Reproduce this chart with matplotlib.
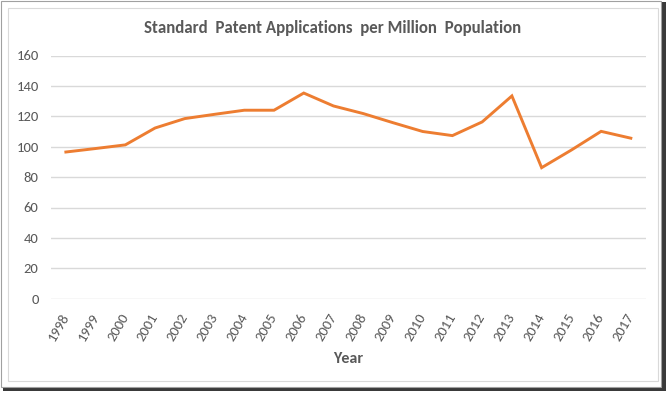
import matplotlib
matplotlib.use("Agg")
import matplotlib.pyplot as plt
from matplotlib.patches import Rectangle

years = [str(y) for y in range(1998, 2018)]
values = [96.5, 98.8, 101.2, 112.3, 118.5, 121.3, 124.0, 124.0, 135.3, 126.8,
          121.8, 115.8, 110.0, 107.3, 116.3, 133.4, 86.2, 97.8, 110.1, 105.6]
yticks = [0, 20, 40, 60, 80, 100, 120, 140, 160]

txt = '#595959'
plt.rcParams['font.family'] = ['Carlito', 'Open Sans', 'DejaVu Sans']

fig = plt.figure(figsize=(6.7, 3.94), dpi=100)
fig.patch.set_facecolor('white')

W, H = 670, 394
fig.patches.append(Rectangle((3 / W, 1 - 391 / H), 663 / W, 389 / H, transform=fig.transFigure,
                             facecolor='#3a3a3a', edgecolor='none', zorder=0))
fig.patches.append(Rectangle((1 / W, 1 - 387 / H), 660 / W, 386 / H, transform=fig.transFigure,
                             facecolor='white', edgecolor='#a0a0a0', lw=0.8, zorder=1))
fig.patches.append(Rectangle((8 / W, 1 - 381 / H), 650 / W, 373 / H, transform=fig.transFigure,
                             facecolor='white', edgecolor='#d9d9d9', lw=0.8, zorder=2))

ax = fig.add_axes([51 / W, 1 - 298.7 / H, (645.7 - 51) / W, (298.7 - 55.5) / H])
ax.set_zorder(3)
ax.patch.set_alpha(0)
x = list(range(len(years)))
ax.plot(x, values, color='#ED7D31', lw=2.1, solid_joinstyle='miter', zorder=3)
ax.set_xlim(-0.5, len(years) - 0.5)
ax.set_ylim(0, 160)
ax.set_yticks(yticks)
ax.set_yticklabels([str(v) for v in yticks])
ax.grid(axis='y', color='#d9d9d9', lw=1)
ax.set_axisbelow(True)
for s in ax.spines.values():
    s.set_visible(False)
ax.tick_params(axis='both', length=0, colors=txt, labelsize=10.5)
ax.tick_params(axis='y', pad=9)
ax.set_xticks(x)
ax.set_xticklabels(years, rotation=60, ha='right', va='center', rotation_mode='anchor')
ax.tick_params(axis='x', pad=11)
ax.set_xlabel('Year', color=txt, fontsize=11.5, fontweight='bold', labelpad=7)

fig.text(333 / W, 1 - 28 / H, 'Standard  Patent Applications  per Million  Population',
         ha='center', va='center', color=txt, fontsize=12.2, fontweight='bold')

fig.savefig('out.png', dpi=100)
